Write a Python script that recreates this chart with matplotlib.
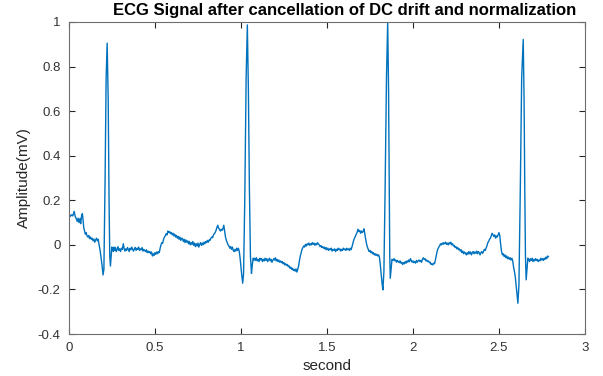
import matplotlib
matplotlib.use('Agg')  # Non-interactive backend
import matplotlib.pyplot as plt

# ECG samples (seconds, mV)
time_s = [
    0.000, 0.008, 0.015, 0.022, 0.030, 0.036, 0.042, 0.048, 0.053, 0.058,
    0.064, 0.068, 0.074, 0.078, 0.082, 0.086, 0.090, 0.095, 0.100, 0.105,
    0.110, 0.115, 0.120, 0.125, 0.130, 0.135, 0.140, 0.145, 0.150, 0.155,
    0.160, 0.165, 0.170, 0.175, 0.180, 0.186, 0.192, 0.198, 0.203, 0.210,
    0.216, 0.222, 0.228, 0.233, 0.237, 0.241, 0.245, 0.249, 0.254, 0.258,
    0.262, 0.266, 0.270, 0.275, 0.280, 0.285, 0.290, 0.295, 0.300, 0.305,
    0.310, 0.316, 0.320, 0.325, 0.330, 0.335, 0.340, 0.345, 0.350, 0.355,
    0.360, 0.365, 0.370, 0.375, 0.380, 0.385, 0.390, 0.395, 0.400, 0.405,
    0.410, 0.415, 0.420, 0.425, 0.430, 0.435, 0.440, 0.445, 0.450, 0.455,
    0.460, 0.465, 0.470, 0.475, 0.480, 0.485, 0.490, 0.495, 0.500, 0.505,
    0.510, 0.515, 0.520, 0.525, 0.530, 0.535, 0.540, 0.545, 0.550, 0.555,
    0.560, 0.565, 0.570, 0.575, 0.580, 0.585, 0.590, 0.595, 0.600, 0.605,
    0.610, 0.615, 0.620, 0.625, 0.630, 0.635, 0.640, 0.645, 0.650, 0.655,
    0.660, 0.665, 0.670, 0.675, 0.680, 0.685, 0.690, 0.695, 0.700, 0.705,
    0.710, 0.715, 0.720, 0.725, 0.730, 0.735, 0.740, 0.745, 0.750, 0.755,
    0.760, 0.765, 0.770, 0.775, 0.780, 0.785, 0.790, 0.795, 0.800, 0.805,
    0.810, 0.815, 0.820, 0.825, 0.830, 0.835, 0.840, 0.845, 0.850, 0.855,
    0.860, 0.865, 0.870, 0.875, 0.880, 0.885, 0.890, 0.895, 0.900, 0.905,
    0.910, 0.915, 0.920, 0.925, 0.930, 0.935, 0.940, 0.945, 0.950, 0.955,
    0.960, 0.965, 0.970, 0.975, 0.980, 0.985, 0.990, 0.995, 1.000, 1.005,
    1.010, 1.015, 1.022, 1.030, 1.037, 1.043, 1.049, 1.055, 1.061, 1.066,
    1.071, 1.076, 1.080, 1.085, 1.090, 1.095, 1.100, 1.105, 1.110, 1.115,
    1.120, 1.125, 1.130, 1.135, 1.140, 1.145, 1.150, 1.155, 1.160, 1.165,
    1.170, 1.175, 1.180, 1.185, 1.190, 1.195, 1.200, 1.205, 1.210, 1.215,
    1.220, 1.225, 1.230, 1.235, 1.240, 1.245, 1.250, 1.255, 1.260, 1.265,
    1.270, 1.275, 1.280, 1.285, 1.290, 1.295, 1.300, 1.305, 1.310, 1.315,
    1.320, 1.325, 1.330, 1.335, 1.340, 1.345, 1.350, 1.355, 1.360, 1.365,
    1.370, 1.375, 1.380, 1.385, 1.390, 1.395, 1.400, 1.405, 1.410, 1.415,
    1.420, 1.425, 1.430, 1.435, 1.440, 1.445, 1.450, 1.455, 1.460, 1.465,
    1.470, 1.475, 1.480, 1.485, 1.490, 1.495, 1.500, 1.505, 1.510, 1.515,
    1.520, 1.525, 1.530, 1.535, 1.540, 1.545, 1.550, 1.555, 1.560, 1.565,
    1.570, 1.575, 1.580, 1.585, 1.590, 1.595, 1.600, 1.605, 1.610, 1.615,
    1.620, 1.625, 1.630, 1.635, 1.640, 1.645, 1.650, 1.655, 1.660, 1.665,
    1.670, 1.675, 1.680, 1.685, 1.690, 1.695, 1.700, 1.705, 1.710, 1.715,
    1.720, 1.725, 1.730, 1.735, 1.740, 1.745, 1.750, 1.755, 1.760, 1.765,
    1.770, 1.775, 1.780, 1.785, 1.790, 1.795, 1.800, 1.805, 1.810, 1.815,
    1.820, 1.825, 1.831, 1.838, 1.846, 1.853, 1.858, 1.862, 1.865, 1.868,
    1.873, 1.878, 1.884, 1.890, 1.895, 1.900, 1.905, 1.910, 1.915, 1.920,
    1.925, 1.930, 1.935, 1.940, 1.945, 1.950, 1.955, 1.960, 1.965, 1.970,
    1.975, 1.980, 1.985, 1.990, 1.995, 2.000, 2.005, 2.010, 2.015, 2.020,
    2.025, 2.030, 2.035, 2.040, 2.045, 2.050, 2.055, 2.060, 2.065, 2.070,
    2.075, 2.080, 2.085, 2.090, 2.095, 2.100, 2.105, 2.110, 2.115, 2.120,
    2.125, 2.130, 2.135, 2.140, 2.145, 2.150, 2.155, 2.160, 2.165, 2.170,
    2.175, 2.180, 2.185, 2.190, 2.195, 2.200, 2.205, 2.210, 2.215, 2.220,
    2.225, 2.230, 2.235, 2.240, 2.245, 2.250, 2.255, 2.260, 2.265, 2.270,
    2.275, 2.280, 2.285, 2.290, 2.295, 2.300, 2.305, 2.310, 2.315, 2.320,
    2.325, 2.330, 2.335, 2.340, 2.345, 2.350, 2.355, 2.360, 2.365, 2.370,
    2.375, 2.380, 2.385, 2.390, 2.395, 2.400, 2.405, 2.410, 2.415, 2.420,
    2.425, 2.430, 2.435, 2.440, 2.445, 2.450, 2.455, 2.460, 2.465, 2.470,
    2.475, 2.480, 2.485, 2.490, 2.495, 2.500, 2.505, 2.510, 2.515, 2.520,
    2.525, 2.530, 2.535, 2.540, 2.545, 2.550, 2.555, 2.560, 2.565, 2.570,
    2.575, 2.580, 2.585, 2.590, 2.595, 2.600, 2.605, 2.610, 2.616, 2.624,
    2.632, 2.641, 2.646, 2.650, 2.654, 2.658, 2.663, 2.668, 2.673, 2.678,
    2.683, 2.688, 2.693, 2.698, 2.703, 2.708, 2.713, 2.718, 2.723, 2.728,
    2.733, 2.738, 2.743, 2.748, 2.753, 2.758, 2.763, 2.768, 2.773, 2.778,
    2.783, 2.787,
]

amplitude_mv = [
    0.140, 0.128, 0.135, 0.130, 0.150, 0.128, 0.118, 0.105, 0.120, 0.100,
    0.118, 0.095, 0.135, 0.140, 0.110, 0.075, 0.065, 0.048, 0.055, 0.040,
    0.035, 0.042, 0.028, 0.035, 0.025, 0.030, 0.018, 0.026, 0.012, 0.022,
    0.030, 0.018, 0.025, 0.000, -0.020, -0.055, -0.090, -0.135, -0.110, 0.300,
    0.750, 0.905, 0.650, 0.200, -0.050, -0.095, -0.050, -0.010, -0.015, -0.030,
    -0.010, -0.025, -0.012, -0.030, -0.020, -0.008, -0.025, -0.018, -0.030, -0.015,
    -0.020, 0.005, -0.015, -0.028, -0.018, -0.025, -0.012, -0.020, -0.030, -0.015,
    -0.022, -0.010, -0.020, -0.028, -0.018, -0.012, -0.025, -0.015, -0.020, -0.010,
    -0.025, -0.018, -0.022, -0.012, -0.028, -0.020, -0.025, -0.030, -0.022, -0.035,
    -0.028, -0.035, -0.030, -0.040, -0.032, -0.050, -0.040, -0.048, -0.035, -0.042,
    -0.032, -0.040, -0.030, -0.035, -0.015, 0.000, 0.010, 0.008, 0.025, 0.035,
    0.040, 0.050, 0.045, 0.062, 0.055, 0.060, 0.050, 0.055, 0.045, 0.052,
    0.040, 0.048, 0.035, 0.042, 0.030, 0.038, 0.025, 0.035, 0.020, 0.030,
    0.028, 0.015, 0.025, 0.010, 0.022, 0.012, 0.018, 0.005, 0.015, 0.000,
    0.010, 0.002, 0.015, -0.002, 0.008, -0.008, 0.005, -0.005, 0.008, -0.010,
    0.002, 0.010, -0.002, 0.008, 0.000, 0.012, 0.005, 0.015, 0.010, 0.020,
    0.012, 0.022, 0.020, 0.030, 0.035, 0.032, 0.045, 0.050, 0.055, 0.065,
    0.078, 0.088, 0.075, 0.070, 0.062, 0.070, 0.065, 0.072, 0.088, 0.060,
    0.035, 0.020, 0.010, 0.000, -0.005, -0.015, -0.008, -0.020, -0.010, -0.025,
    -0.030, -0.020, -0.028, -0.015, -0.025, -0.015, -0.030, -0.060, -0.100, -0.140,
    -0.172, -0.130, 0.200, 0.750, 0.987, 0.700, 0.250, -0.050, -0.128, -0.090,
    -0.060, -0.068, -0.060, -0.070, -0.058, -0.072, -0.065, -0.075, -0.060, -0.068,
    -0.062, -0.075, -0.065, -0.072, -0.060, -0.070, -0.062, -0.075, -0.068, -0.060,
    -0.072, -0.065, -0.078, -0.070, -0.062, -0.068, -0.058, -0.072, -0.065, -0.075,
    -0.068, -0.078, -0.072, -0.080, -0.075, -0.085, -0.080, -0.090, -0.085, -0.092,
    -0.088, -0.098, -0.095, -0.105, -0.100, -0.110, -0.105, -0.115, -0.110, -0.118,
    -0.108, -0.122, -0.110, -0.095, -0.070, -0.050, -0.035, -0.020, -0.012, -0.005,
    -0.010, 0.002, -0.005, 0.005, 0.000, 0.008, -0.002, 0.005, 0.000, 0.010,
    0.002, 0.008, -0.002, 0.006, 0.000, 0.010, 0.004, 0.000, -0.008, -0.003,
    -0.012, -0.008, -0.015, -0.010, -0.020, -0.012, -0.022, -0.015, -0.025, -0.018,
    -0.022, -0.015, -0.028, -0.020, -0.025, -0.018, -0.030, -0.020, -0.025, -0.015,
    -0.022, -0.018, -0.028, -0.020, -0.025, -0.015, -0.022, -0.018, -0.025, -0.015,
    -0.022, -0.018, -0.025, -0.015, -0.022, -0.010, 0.005, 0.020, 0.030, 0.038,
    0.048, 0.055, 0.070, 0.060, 0.065, 0.052, 0.062, 0.055, 0.060, 0.072,
    0.050, 0.025, 0.005, -0.010, -0.020, -0.030, -0.025, -0.035, -0.030, -0.040,
    -0.035, -0.045, -0.040, -0.048, -0.042, -0.050, -0.045, -0.055, -0.090, -0.130,
    -0.170, -0.202, -0.120, 0.250, 0.750, 1.000, 0.700, 0.250, -0.050, -0.150,
    -0.110, -0.065, -0.070, -0.062, -0.072, -0.068, -0.078, -0.070, -0.075, -0.080,
    -0.072, -0.082, -0.078, -0.088, -0.080, -0.085, -0.075, -0.082, -0.072, -0.078,
    -0.068, -0.075, -0.062, -0.070, -0.078, -0.072, -0.080, -0.075, -0.082, -0.070,
    -0.078, -0.072, -0.068, -0.075, -0.070, -0.078, -0.065, -0.058, -0.065, -0.062,
    -0.072, -0.068, -0.075, -0.072, -0.080, -0.078, -0.088, -0.085, -0.090, -0.082,
    -0.085, -0.070, -0.050, -0.030, -0.018, -0.010, -0.005, 0.005, 0.000, 0.008,
    0.002, 0.010, 0.005, 0.012, 0.002, 0.008, 0.000, 0.010, 0.004, 0.012,
    0.000, 0.005, -0.005, -0.002, -0.012, -0.008, -0.018, -0.012, -0.022, -0.018,
    -0.028, -0.022, -0.035, -0.028, -0.040, -0.032, -0.038, -0.045, -0.035, -0.042,
    -0.030, -0.040, -0.032, -0.045, -0.035, -0.030, -0.040, -0.032, -0.038, -0.028,
    -0.040, -0.030, -0.035, -0.045, -0.035, -0.030, -0.038, -0.030, -0.020, -0.025,
    -0.015, -0.005, 0.010, 0.015, 0.025, 0.030, 0.040, 0.052, 0.045, 0.038,
    0.045, 0.030, 0.040, 0.035, 0.045, 0.055, 0.040, 0.000, -0.030, -0.045,
    -0.040, -0.052, -0.045, -0.058, -0.050, -0.062, -0.055, -0.065, -0.058, -0.068,
    -0.060, -0.072, -0.100, -0.120, -0.145, -0.185, -0.230, -0.262, -0.180, 0.250,
    0.750, 0.922, 0.650, 0.250, -0.050, -0.157, -0.110, -0.060, -0.065, -0.075,
    -0.062, -0.070, -0.060, -0.075, -0.065, -0.072, -0.062, -0.070, -0.065, -0.075,
    -0.068, -0.072, -0.060, -0.068, -0.062, -0.070, -0.060, -0.065, -0.055, -0.062,
    -0.050, -0.053,
]

x_ticks = [0, 0.5, 1, 1.5, 2, 2.5, 3]
y_ticks = [-0.4, -0.2, 0, 0.2, 0.4, 0.6, 0.8, 1]

plt.rcParams['font.family'] = ['Liberation Sans', 'DejaVu Sans']

fig = plt.figure(figsize=(6.03, 3.76), dpi=100)
ax = fig.add_axes([0.1144, 0.1117, 0.8557, 0.8298])

ax.plot(time_s, amplitude_mv, color='#0072BD', lw=1.0)

ax.set_xlim(0, 3)
ax.set_ylim(-0.4, 1)
ax.set_xticks(x_ticks)
ax.set_xticklabels([f"{t:g}" for t in x_ticks])
ax.set_yticks(y_ticks)
ax.set_yticklabels([f"{t:g}" for t in y_ticks])

# MATLAB-like box with inward ticks on all sides
ax.tick_params(direction='in', top=True, right=True, length=4, width=0.8,
               color='#262626', labelsize=9.5, labelcolor='#333333', pad=6)
for side in ax.spines.values():
    side.set_color('#6e6e6e')
    side.set_linewidth(0.8)

ax.set_xlabel('second', fontsize=11, color='#262626', labelpad=3)
ax.set_ylabel('Amplitude(mV)', fontsize=11, color='#262626', labelpad=5)
ax.set_title('ECG Signal after cancellation of DC drift and normalization',
             fontsize=12, fontweight='bold', pad=5, x=0.535)

fig.savefig('out.png', dpi=100)
plt.close(fig)
